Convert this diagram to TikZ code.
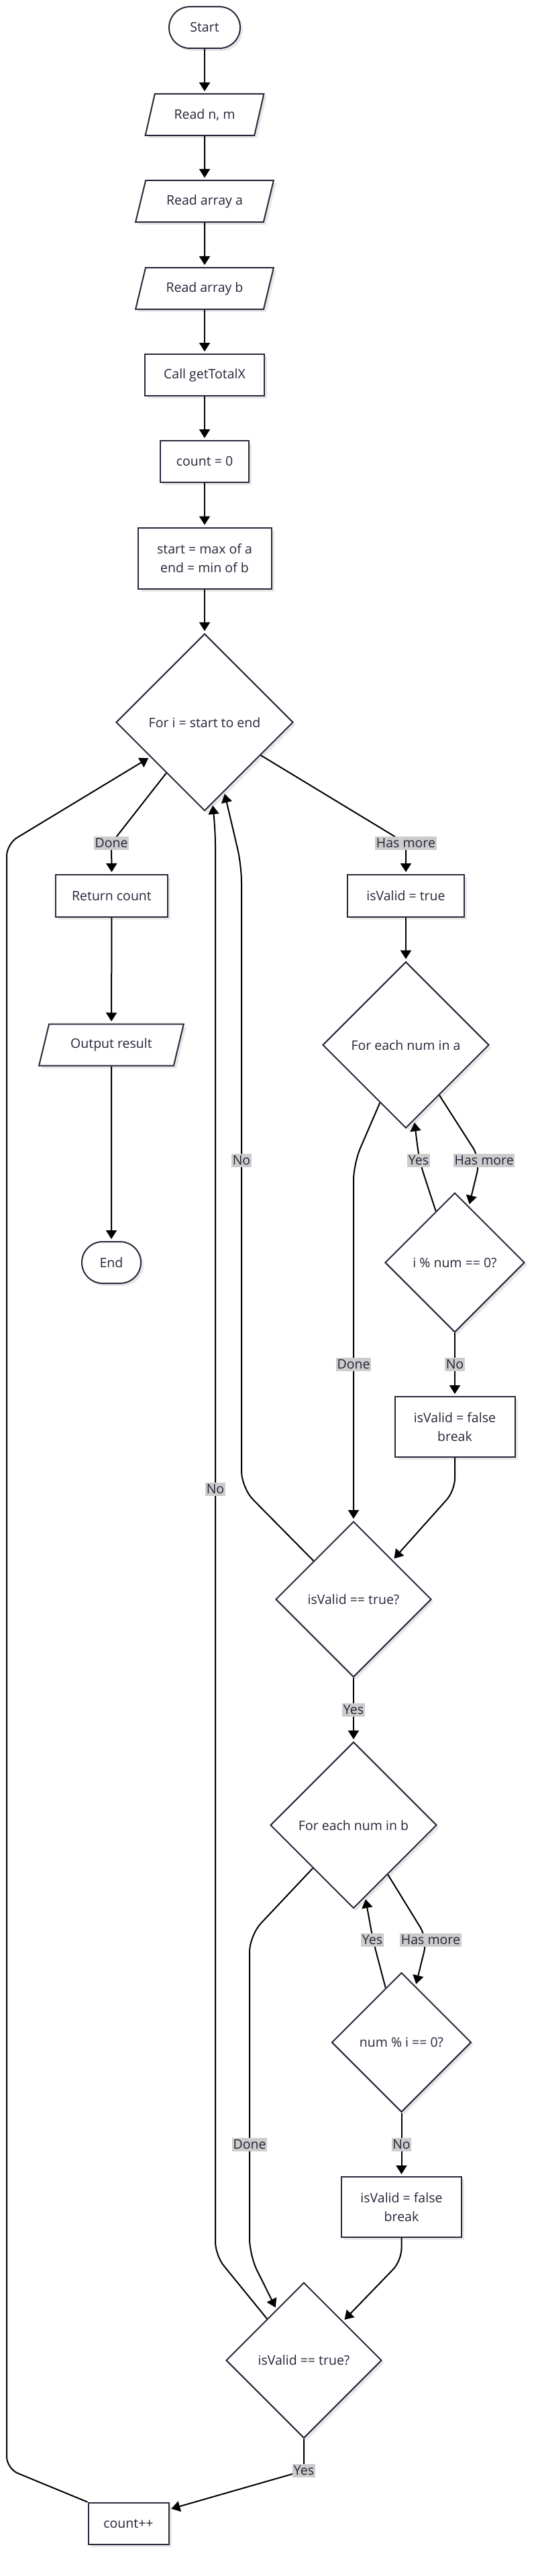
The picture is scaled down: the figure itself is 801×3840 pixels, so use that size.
\documentclass[tikz,border=0pt]{standalone}
\usepackage{fontspec}
\setmainfont{Open Sans}
\usetikzlibrary{shapes.geometric,arrows.meta,calc,shadows}
\definecolor{nodecol}{RGB}{40,40,60}
\definecolor{txtcol}{RGB}{36,36,56}
\definecolor{lblgray}{RGB}{204,204,204}
\pgfdeclarelayer{bglayer}
\pgfdeclarelayer{edgelayer}
\pgfsetlayers{bglayer,edgelayer,main}
\tikzset{
  box/.style={draw=nodecol, line width=2pt, fill=white, text=txtcol,
    font=\fontsize{19.5}{27.5}\selectfont, align=center, inner sep=0pt,
    drop shadow={shadow xshift=4pt, shadow yshift=-4pt, opacity=0.09, fill=black}},
  proc/.style={box, rectangle},
  term/.style={box, rectangle, rounded corners=31pt, minimum height=62pt},
  io/.style={box, trapezium, trapezium left angle=63.4, trapezium right angle=116.6,
    trapezium stretches=true, minimum height=62pt},
  dec/.style={box, diamond, aspect=1},
  lbl/.style={fill=lblgray, text=txtcol, font=\fontsize{19.5}{23}\selectfont,
    inner xsep=1.5pt, inner ysep=3pt},
  arr/.style={draw=black, line width=2pt, -{Triangle[length=13pt,width=16pt]}, shorten >=3pt},
}
\begin{document}
\begin{tikzpicture}[x=1pt,y=1pt]
\begin{pgfonlayer}{bglayer}
\fill[white] (0,0) rectangle (801,-3840);
\end{pgfonlayer}
\useasboundingbox (0,0) rectangle (801,-3840);

% main column
\node[term, minimum width=106pt] (start) at (305,-41) {Start};
\node[io, minimum width=177pt] (readnm) at (305,-171) {Read n, m};
\node[io, minimum width=206pt] (reada) at (305,-300) {Read array a};
\node[io, minimum width=206pt] (readb) at (305,-430) {Read array b};
\node[proc, minimum width=178pt, minimum height=62pt] (callx) at (305,-559) {Call getTotalX};
\node[proc, minimum width=132pt, minimum height=62pt] (count0) at (305,-688) {count = 0};
\node[proc, minimum width=199pt, minimum height=91pt] (startend) at (305,-832) {start = max of a\\end = min of b};
\node[dec, minimum width=264pt, minimum height=264pt] (fori) at (305,-1076.7) {For i = start to end};

% left branch
\node[proc, minimum width=167pt, minimum height=63pt] (retcount) at (166.5,-1335.5) {Return count};
\node[io, minimum width=216pt] (output) at (166,-1557.5) {Output result};
\node[term, minimum width=88pt] (endn) at (166,-1882) {End};

% right branch
\node[proc, minimum width=174pt, minimum height=63pt] (validtrue) at (605,-1335.5) {isValid = true};
\node[dec, minimum width=248pt, minimum height=248pt] (eacha) at (605,-1557.7) {For each num in a};
\node[dec, minimum width=208pt, minimum height=208pt] (imod) at (678,-1882) {i \% num == 0?};
\node[proc, minimum width=179pt, minimum height=90pt] (break1) at (678,-2127) {isValid = false\\break};
\node[dec, minimum width=232pt, minimum height=232pt] (valid1) at (527,-2384) {isValid == true?};
\node[dec, minimum width=248pt, minimum height=248pt] (eachb) at (527,-2720.7) {For each num in b};
\node[dec, minimum width=208pt, minimum height=208pt] (nummod) at (598.5,-3044.5) {num \% i == 0?};
\node[proc, minimum width=179pt, minimum height=90pt] (break2) at (598.5,-3290) {isValid = false\\break};
\node[dec, minimum width=232pt, minimum height=232pt] (valid2) at (453,-3518.5) {isValid == true?};
\node[proc, minimum width=120pt, minimum height=62pt] (countpp) at (191.5,-3761.7) {count++};

% edge labels
\node[lbl] (l1) at (166,-1257) {Done};
\node[lbl] (l2) at (605,-1257) {Has more};
\node[lbl] (l3) at (624,-1730) {Yes};
\node[lbl] (l4) at (721.7,-1730) {Has more};
\node[lbl] (l5) at (527,-2034) {Done};
\node[lbl] (l6) at (678,-2034) {No};
\node[lbl] (l7) at (360,-1730) {No};
\node[lbl] (l8) at (527,-2549) {Yes};
\node[lbl] (l9) at (555,-2892) {Yes};
\node[lbl] (l10) at (642,-2892) {Has more};
\node[lbl] (l11) at (372,-3197) {Done};
\node[lbl] (l12) at (598.5,-3197) {No};
\node[lbl] (l13) at (321,-2220) {No};
\node[lbl] (l14) at (453,-3683) {Yes};

\begin{pgfonlayer}{edgelayer}
\draw[arr] (start) -- (readnm);
\draw[arr] (readnm) -- (reada);
\draw[arr] (reada) -- (readb);
\draw[arr] (readb) -- (callx);
\draw[arr] (callx) -- (count0);
\draw[arr] (count0) -- (startend);
\draw[arr] (startend) -- (fori);
% for i: done
\draw[arr, rounded corners=10pt] ($(fori.west)!0.57!(fori.south)$) -- (l1.center) -- (retcount.north);
\draw[arr] (retcount) -- (output);
\draw[arr] (output) -- (endn);
% for i: has more
\draw[arr, rounded corners=10pt] ($(fori.east)!0.37!(fori.south)$) -- (l2.center) -- (validtrue.north);
\draw[arr] (validtrue) -- (eacha);
% each a: has more
\draw[arr, rounded corners=20pt] ($(eacha.east)!0.6!(eacha.south)$) -- (716,-1728) -- ($(imod.north)!0.2!(imod.east)$);
% imod: yes
\draw[arr, rounded corners=20pt] ($(imod.north)!0.27!(imod.west)$) -- (625,-1730) -- ($(eacha.south)!0.1!(eacha.east)$);
% each a: done
\draw[arr, rounded corners=25pt] ($(eacha.south)!0.31!(eacha.west)$) -- (527,-1735) -- (l5.center) -- (valid1.north);
% imod: no
\draw[arr] (imod) -- (break1);
\draw[arr, rounded corners=18pt] (break1.south) -- (678,-2222) -- ($(valid1.north)!0.5!(valid1.east)$);
% valid1: no
\draw[arr, rounded corners=25pt] ($(valid1.north)!0.51!(valid1.west)$) -- (360,-2218) -- (l7.center) -- (360,-1290) -- ($(fori.south)!0.22!(fori.east)$);
% valid1: yes
\draw[arr] (valid1) -- (eachb);
% each b: has more
\draw[arr, rounded corners=20pt] ($(eachb.east)!0.59!(eachb.south)$) -- (637,-2890) -- ($(nummod.north)!0.2!(nummod.east)$);
% nummod: yes
\draw[arr, rounded corners=20pt] ($(nummod.north)!0.226!(nummod.west)$) -- (556,-2892) -- ($(eachb.south)!0.14!(eachb.east)$);
% each b: done
\draw[arr, rounded corners=25pt] ($(eachb.south)!0.486!(eachb.west)$) -- (372,-2885) -- (l11.center) -- (372,-3362) -- ($(valid2.north)!0.35!(valid2.west)$);
% nummod: no
\draw[arr] (nummod) -- (break2);
\draw[arr, rounded corners=18pt] (break2.south) -- (598.5,-3370) -- ($(valid2.north)!0.5!(valid2.east)$);
% valid2: no
\draw[arr, rounded corners=20pt] ($(valid2.north)!0.47!(valid2.west)$) -- (321,-3362) -- (l13.center) -- (321,-1240) -- ($(fori.south)!0.09!(fori.east)$);
% valid2: yes
\draw[arr, rounded corners=10pt] (valid2.south) -- (l14.center) -- ($(countpp.north east)!0.17!(countpp.south east)$);
% count++ back to loop
\draw[arr, rounded corners=18pt] (countpp.north west) -- (10,-3680) -- (10,-1258) -- ($(fori.west)!0.39!(fori.south)$);
\end{pgfonlayer}
\end{tikzpicture}
\end{document}
